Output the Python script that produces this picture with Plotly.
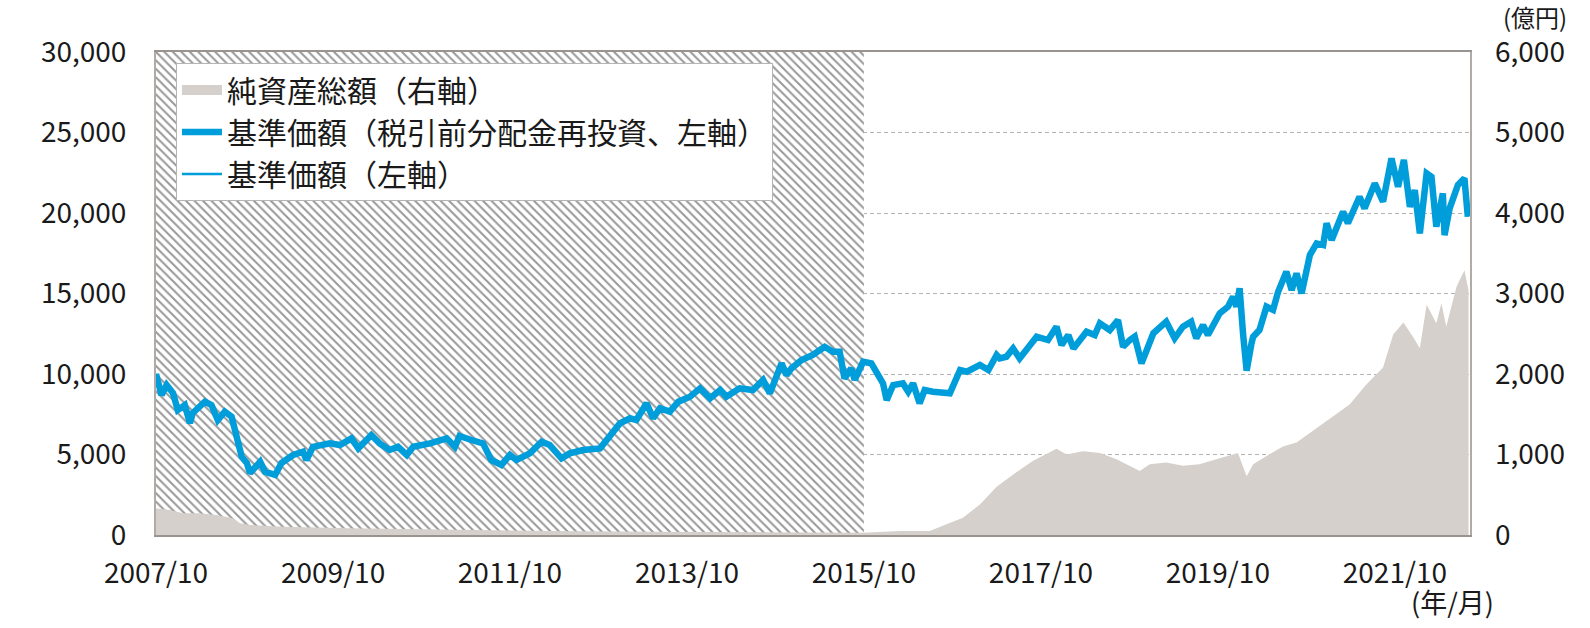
import plotly.graph_objects as go

# ---------------- data ----------------
nav_dates = [
    "2007-10-01","2007-10-24","2007-11-14","2007-12-10","2007-12-30","2008-01-28","2008-02-18","2008-03-01",
    "2008-04-20","2008-05-17","2008-06-12","2008-07-11","2008-08-08","2008-08-30","2008-09-19","2008-10-10",
    "2008-10-23","2008-12-04","2008-12-24","2009-02-04","2009-03-02","2009-04-19","2009-05-30","2009-06-13",
    "2009-07-10","2009-09-18","2009-10-29","2009-12-16","2010-01-13","2010-03-08","2010-04-11","2010-05-22",
    "2010-06-26","2010-08-01","2010-08-28","2010-11-05","2011-01-13","2011-02-16","2011-03-07","2011-04-25",
    "2011-06-12","2011-07-16","2011-08-27","2011-10-01","2011-10-28","2011-12-22","2012-02-09","2012-03-13",
    "2012-05-01","2012-06-04","2012-07-29","2012-10-07","2012-11-17","2012-12-28","2013-02-08","2013-03-06",
    "2013-04-17","2013-05-14","2013-06-11","2013-07-22","2013-08-26","2013-10-13","2013-11-24","2014-01-04",
    "2014-02-15","2014-03-12","2014-05-06","2014-06-30","2014-08-11","2014-09-08","2014-10-26","2014-11-16",
    "2014-12-06","2015-01-17","2015-03-04","2015-04-22","2015-05-26","2015-06-23","2015-07-13","2015-08-10",
    "2015-08-24","2015-09-28","2015-11-01","2015-11-29","2015-12-19","2016-01-03","2016-01-30","2016-03-10",
    "2016-04-01","2016-04-21","2016-05-18","2016-06-08","2016-07-12","2016-09-20","2016-11-01","2016-11-29",
    "2017-01-22","2017-02-26","2017-04-01","2017-04-14","2017-05-11","2017-06-08","2017-07-05","2017-09-13",
    "2017-10-30","2017-12-04","2017-12-25","2018-01-22","2018-02-12","2018-04-07","2018-05-11","2018-06-01",
    "2018-07-12","2018-08-15","2018-09-05","2018-10-03","2018-10-23","2018-11-20","2019-01-08","2019-03-02",
    "2019-04-06","2019-05-10","2019-06-13","2019-07-04","2019-08-01","2019-08-21","2019-10-09","2019-11-12",
    "2019-12-03","2019-12-17","2019-12-30","2020-01-13","2020-01-28","2020-02-17","2020-02-24","2020-03-21",
    "2020-04-19","2020-05-16","2020-06-06","2020-07-10","2020-08-01","2020-08-21","2020-09-11","2020-10-15",
    "2020-11-12","2020-12-09","2020-12-23","2021-01-13","2021-03-01","2021-03-21","2021-05-08","2021-05-29",
    "2021-07-10","2021-08-13","2021-09-17","2021-10-14","2021-11-07","2021-12-02","2021-12-22","2022-01-12",
    "2022-02-09","2022-03-01","2022-03-21","2022-04-17","2022-04-24","2022-05-15","2022-06-18","2022-07-15",
    "2022-07-29",
]
nav_values = [
    10000, 8690, 9315, 8820, 7760, 8070, 6955, 7580,
    8280, 8070, 7140, 7660, 7350, 6100, 4860, 4470,
    3850, 4550, 3930, 3730, 4470, 4970, 5170, 4660,
    5480, 5690, 5590, 6000, 5380, 6210, 5690, 5280,
    5480, 4970, 5480, 5690, 6000, 5480, 6150, 5900,
    5690, 4660, 4350, 4970, 4660, 5070, 5790, 5590,
    4760, 5070, 5280, 5380, 6100, 6930, 7250, 7140,
    8180, 7250, 7870, 7660, 8280, 8590, 9110, 8490,
    9005, 8590, 9110, 9005, 9630, 8800, 10660, 9940,
    10350, 10870, 11180, 11690, 11380, 11380, 9730, 10350,
    9630, 10760, 10660, 9830, 9420, 8380, 9315, 9420,
    8900, 9420, 8180, 9005, 8900, 8800, 10250, 10140,
    10560, 10250, 11180, 10970, 11070, 11590, 10970, 12320,
    12110, 12940, 11800, 12420, 11590, 12630, 12420, 13150,
    12730, 13350, 11690, 12110, 12320, 10660, 12530, 13250,
    12220, 12940, 13250, 12220, 13040, 12420, 13770, 14180,
    14800, 14180, 15320, 12530, 10200, 11900, 12320, 12730,
    14180, 13980, 15110, 16350, 15210, 16250, 15010, 17390,
    18110, 18010, 19360, 18320, 20080, 19360, 21010, 20290,
    21840, 20700, 23390, 21630, 23290, 20390, 21420, 18740,
    22460, 22250, 19150, 21220, 18630, 20290, 21740, 22150,
    19770,
]

aum_dates = [
    "2007-10-01","2007-10-08","2007-11-28","2008-01-20","2008-03-30","2008-06-07","2008-08-14","2008-09-12",
    "2008-10-23","2009-03-07","2009-12-09","2011-01-27","2012-03-13","2013-04-30","2014-06-01","2015-09-27",
    "2016-02-26","2016-06-29","2016-09-06","2016-11-13","2017-01-22","2017-04-01","2017-06-07","2017-08-28",
    "2017-12-04","2018-01-15","2018-03-23","2018-06-01","2018-08-09","2018-09-19","2018-11-13","2018-12-24",
    "2019-03-02","2019-05-10","2019-07-17","2019-09-25","2019-12-23","2020-01-28","2020-02-24","2020-04-19",
    "2020-06-26","2020-08-21","2020-11-12","2021-03-28","2021-06-05","2021-08-13","2021-09-24","2021-11-05",
    "2021-12-15","2022-01-12","2022-02-09","2022-03-21","2022-04-11","2022-05-01","2022-06-12","2022-07-15",
    "2022-08-01",
]
aum_values = [
    330, 330, 310, 270, 270, 250, 207, 145,
    124, 103, 83, 62, 50, 41, 35, 28,
    50, 50, 135, 215, 380, 600, 750, 920,
    1070, 1000, 1040, 1020, 940, 880, 795, 880,
    900, 860, 880, 940, 1020, 730, 880, 980,
    1100, 1150, 1330, 1620, 1870, 2080, 2490, 2640,
    2460, 2320, 2860, 2630, 2880, 2590, 3080, 3290,
    3040,
]

x_tick_vals = ["2007-10-01","2009-10-01","2011-10-01","2013-10-01","2015-10-01","2017-10-01","2019-10-01","2021-10-01"]
x_tick_text = ["2007/10","2009/10","2011/10","2013/10","2015/10","2017/10","2019/10","2021/10"]
left_ticks = [0, 5000, 10000, 15000, 20000, 25000, 30000]
right_ticks = [0, 1000, 2000, 3000, 4000, 5000, 6000]

X_START = "2007-10-01"
X_END = "2022-08-07"
HATCH_END = "2015-10-01"
LEFT_MAX = 30000
RIGHT_MAX = 6000

FONT = "Noto Sans CJK JP"
BLUE = "#009ddb"
GRAY_AREA = "#d5d0cb"
TXT = "#1a1a1a"

fig = go.Figure()

# hatched period (before 2015/10)
fig.add_trace(go.Scatter(
    x=[X_START, X_START, HATCH_END, HATCH_END, X_START],
    y=[0, LEFT_MAX, LEFT_MAX, 0, 0],
    mode="lines", line=dict(width=0), fill="toself", fillcolor="white",
    fillpattern=dict(shape="\\", fgcolor="#989898", bgcolor="white", size=6, solidity=0.33),
    showlegend=False, hoverinfo="skip", xaxis="x", yaxis="y",
))

# net assets (right axis)
fig.add_trace(go.Scatter(
    x=aum_dates, y=aum_values, name="純資産総額（右軸）",
    mode="lines", line=dict(width=0, color=GRAY_AREA), fill="tozeroy", fillcolor=GRAY_AREA,
    xaxis="x", yaxis="y2", showlegend=False, hoverinfo="x+y",
))
# legend swatch for the net-assets area (no data of its own)
fig.add_trace(go.Scatter(
    x=[None], y=[None], name="純資産総額（右軸）",
    mode="lines", line=dict(width=14, color=GRAY_AREA),
    xaxis="x", yaxis="y2", legendrank=1,
))

# NAV (thin) and NAV reinvested (thick), left axis scale
fig.add_trace(go.Scatter(
    x=nav_dates, y=nav_values, name="基準価額（左軸）",
    mode="lines", line=dict(width=2.5, color=BLUE),
    xaxis="x", yaxis="y3", legendrank=3,
))
fig.add_trace(go.Scatter(
    x=nav_dates, y=nav_values, name="基準価額（税引前分配金再投資、左軸）",
    mode="lines", line=dict(width=6.5, color=BLUE),
    xaxis="x", yaxis="y3", legendrank=2,
))

fig.update_layout(
    template="none",
    width=1590, height=628,
    margin=dict(l=156, r=120, t=52, b=93, autoexpand=False),
    paper_bgcolor="white", plot_bgcolor="white",
    font=dict(family=FONT, size=28, color=TXT),
    showlegend=True,
    legend=dict(
        x=0.0152, y=0.977, xanchor="left", yanchor="top",
        bgcolor="white", bordercolor="#b4b4b4", borderwidth=1,
        font=dict(family=FONT, size=30, color=TXT),
        traceorder="normal", itemwidth=40,
    ),
    xaxis=dict(
        type="date", range=[X_START, X_END], automargin=False,
        tickmode="array", tickvals=x_tick_vals, ticktext=x_tick_text,
        showgrid=False, zeroline=False, ticks="",
        showline=True, linecolor="#9a9490", linewidth=2, mirror=True,
        tickfont=dict(family=FONT, size=28, color=TXT), ticklabelstandoff=12,
    ),
    yaxis=dict(
        range=[0, LEFT_MAX], automargin=False, tickmode="array", tickvals=left_ticks, tickformat=",d",
        showgrid=True, gridcolor="#b3b3b3", gridwidth=1, griddash="4px,3px",
        zeroline=False, ticks="", showline=True, linecolor="#b0aba7", linewidth=2, mirror=True,
        tickfont=dict(family=FONT, size=28, color=TXT), ticklabelstandoff=22,
    ),
    yaxis2=dict(
        overlaying="y", side="right", range=[0, RIGHT_MAX], automargin=False,
        tickmode="array", tickvals=right_ticks, tickformat=",d",
        showgrid=False, zeroline=False, showline=False, ticks="",
        tickfont=dict(family=FONT, size=28, color=TXT), ticklabelstandoff=24,
    ),
    yaxis3=dict(overlaying="y", range=[0, LEFT_MAX], visible=False, automargin=False),
    annotations=[
        dict(text="(億円)", xref="paper", yref="paper", x=1.0495, y=1.0331,
             xanchor="center", yanchor="bottom", showarrow=False,
             font=dict(family=FONT, size=24, color=TXT)),
        dict(text="(年/月)", xref="paper", yref="paper", x=0.987, y=-0.1387,
             xanchor="center", yanchor="middle", showarrow=False,
             font=dict(family=FONT, size=27, color=TXT)),
    ],
)

fig.write_html(
    "out.html",
    config={"displayModeBar": False},
    post_script="document.body.style.margin='0';document.body.style.padding='0';",
)
